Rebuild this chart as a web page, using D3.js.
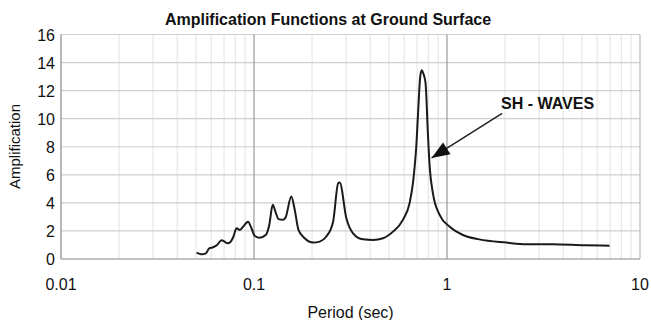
<!DOCTYPE html>
<html>
<head>
<meta charset="utf-8">
<script src="https://cdn.jsdelivr.net/npm/d3@7"></script>
<style>
  body { margin: 0; background: #fff; }
  text { font-family: Arial, "Liberation Sans", sans-serif; fill: #111; }
</style>
</head>
<body>
<div id="chart"></div>
<script>
// amplification curve
const periods = [0.0504, 0.0535, 0.0563, 0.0586, 0.0614, 0.0644, 0.0679, 0.070, 0.0729, 0.0755,
    0.078, 0.0812, 0.0845, 0.0879, 0.0932, 0.097, 0.101, 0.107, 0.115, 0.12,
    0.125, 0.13, 0.134, 0.1415, 0.146, 0.156, 0.1626, 0.17, 0.183, 0.202,
    0.219, 0.237, 0.257, 0.273, 0.278, 0.301, 0.326, 0.367, 0.414, 0.466,
    0.525, 0.591, 0.64, 0.666, 0.68, 0.693, 0.708, 0.728, 0.741, 0.755,
    0.774, 0.796, 0.813, 0.845, 0.916, 1.03, 1.21, 1.47, 2.03, 2.57,
    3.53, 5.15, 6.95];
const amplification = [0.45, 0.33, 0.4, 0.76, 0.84, 1.0, 1.34, 1.26, 1.12, 1.21,
    1.55, 2.19, 2.07, 2.31, 2.66, 2.19, 1.64, 1.52, 1.71, 2.43,
    3.86, 3.26, 2.84, 2.79, 2.98, 4.45, 3.5, 2.07, 1.48, 1.17,
    1.24, 1.6, 2.66, 5.4, 5.45, 2.9, 1.83, 1.4, 1.36, 1.48,
    1.95, 2.79, 3.98, 5.4, 6.6, 8.0, 10.4, 13.1, 13.45, 13.2,
    12.55, 8.98, 6.6, 4.7, 3.14, 2.31, 1.71, 1.4, 1.17, 1.05,
    1.05, 0.98, 0.95];
const xTicks = [0.01, 0.1, 1, 10];
const yTicks = [0, 2, 4, 6, 8, 10, 12, 14, 16];
const label = 'SH - WAVES';
const labelFrom = [1.93, 10.38];
const labelTo = [0.832, 7.2];

const width = 651;
const height = 320;
const margin = { top: 34.5, right: 11, bottom: 61, left: 61 };

const svg = d3.select('#chart').append('svg')
    .attr('width', width)
    .attr('height', height);

const x = d3.scaleLog()
    .domain([0.01, 10])
    .range([margin.left, width - margin.right]);
const y = d3.scaleLinear()
    .domain([0, 16])
    .range([height - margin.bottom, margin.top]);

// minor grid
const minor = [];
[0.01, 0.1, 1].forEach(d => {
    for (let k = 2; k <= 9; k++) minor.push(d * k);
});
svg.append('g')
    .selectAll('line')
    .data(minor)
    .enter().append('line')
    .attr('x1', d => x(d)).attr('x2', d => x(d))
    .attr('y1', y(16)).attr('y2', y(0))
    .attr('stroke', '#e2e2e2')
    .attr('stroke-width', 1);

svg.append('g')
    .selectAll('line')
    .data(yTicks)
    .enter().append('line')
    .attr('x1', x(0.01)).attr('x2', x(10))
    .attr('y1', d => y(d)).attr('y2', d => y(d))
    .attr('stroke', d => d === 0 ? '#888' : '#cfcfcf')
    .attr('stroke-width', 1.2);

svg.append('g')
    .selectAll('line')
    .data(xTicks)
    .enter().append('line')
    .attr('x1', d => x(d)).attr('x2', d => x(d))
    .attr('y1', y(16)).attr('y2', y(0))
    .attr('stroke', d => d === 0.01 ? '#888' : (d === 10 ? '#bbb' : '#999'))
    .attr('stroke-width', 1.2);

// axes labels
svg.append('g')
    .selectAll('text')
    .data(yTicks)
    .enter().append('text')
    .attr('x', x(0.01) - 6)
    .attr('y', d => y(d) + 6)
    .attr('text-anchor', 'end')
    .attr('font-size', '16px')
    .text(d => d);

svg.append('g')
    .selectAll('text')
    .data(xTicks)
    .enter().append('text')
    .attr('x', d => x(d))
    .attr('y', 290)
    .attr('text-anchor', 'middle')
    .attr('font-size', '16px')
    .text(d => d);

svg.append('text')
    .attr('x', 328)
    .attr('y', 25)
    .attr('text-anchor', 'middle')
    .attr('font-size', '16px')
    .attr('font-weight', 'bold')
    .text('Amplification Functions at Ground Surface');

svg.append('text')
    .attr('x', (x(0.01) + x(10)) / 2)
    .attr('y', 318)
    .attr('text-anchor', 'middle')
    .attr('font-size', '16px')
    .text('Period (sec)');

svg.append('text')
    .attr('transform', 'translate(20,146.5) rotate(-90)')
    .attr('text-anchor', 'middle')
    .attr('font-size', '15px')
    .text('Amplification');

// curve
const pts = periods.map((p, i) => [p, amplification[i]]);
const line = d3.line()
    .x(d => x(d[0]))
    .y(d => y(d[1]))
    .curve(d3.curveMonotoneX);
svg.append('path')
    .datum(pts)
    .attr('fill', 'none')
    .attr('stroke', '#1a1a1a')
    .attr('stroke-width', 2)
    .attr('stroke-linejoin', 'round')
    .attr('d', line);

// annotation arrow
const ax1 = x(labelFrom[0]);
const ay1 = y(labelFrom[1]);
const ax2 = x(labelTo[0]);
const ay2 = y(labelTo[1]);
svg.append('line')
    .attr('x1', ax1).attr('y1', ay1)
    .attr('x2', ax2).attr('y2', ay2)
    .attr('stroke', '#222')
    .attr('stroke-width', 1.5);
const ang = Math.atan2(ay2 - ay1, ax2 - ax1);
const hl = 18;
const hw = 7;
const bx = ax2 - hl * Math.cos(ang);
const by = ay2 - hl * Math.sin(ang);
svg.append('path')
    .attr('d', `M${ax2},${ay2}L${bx + hw * Math.sin(ang)},${by - hw * Math.cos(ang)}L${bx - hw * Math.sin(ang)},${by + hw * Math.cos(ang)}Z`)
    .attr('fill', '#111');

svg.append('text')
    .attr('x', 501)
    .attr('y', 109)
    .attr('font-size', '16px')
    .attr('font-weight', 'bold')
    .text(label);
</script>
</body>
</html>
